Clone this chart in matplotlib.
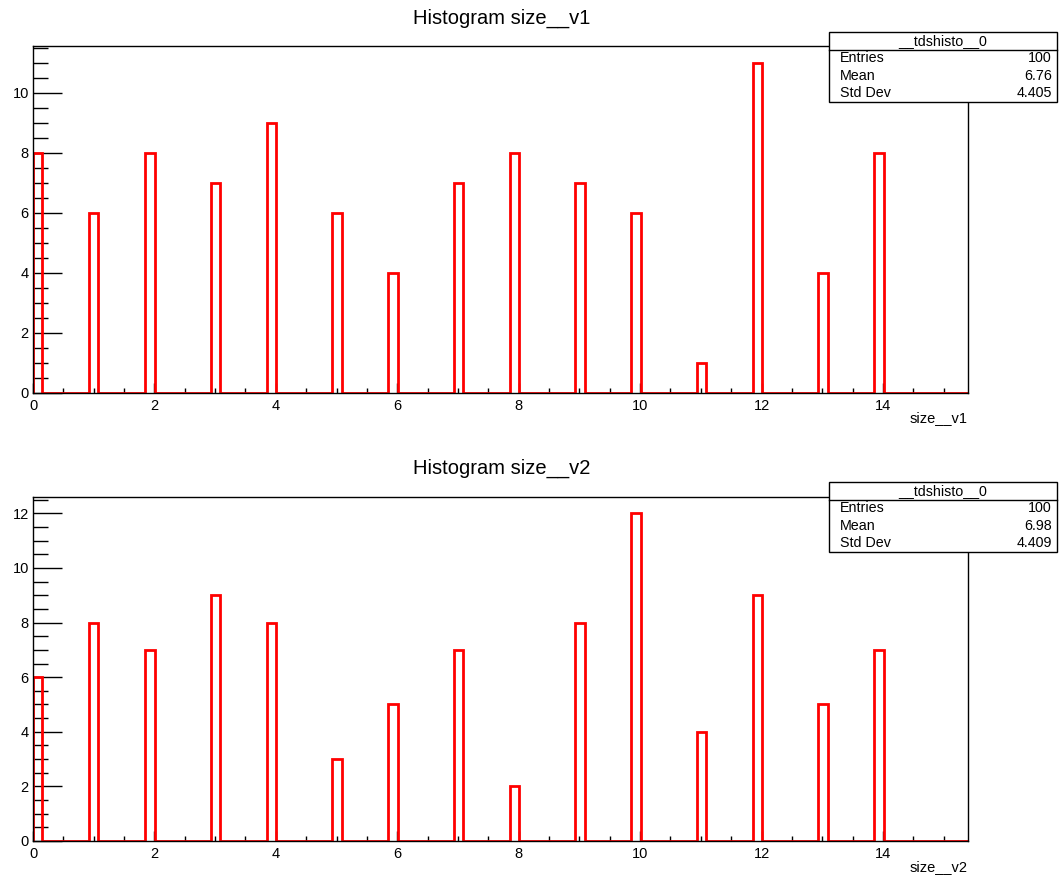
import numpy as np
import matplotlib
matplotlib.use("Agg")
import matplotlib.pyplot as plt
from matplotlib.ticker import MultipleLocator
from matplotlib.patches import Rectangle
from matplotlib.lines import Line2D

plt.rcParams['font.family'] = ['Liberation Sans', 'DejaVu Sans']

values = list(range(15))
counts_v1 = [8, 6, 8, 7, 9, 6, 4, 7, 8, 7, 6, 1, 11, 4, 8]
counts_v2 = [6, 8, 7, 9, 8, 3, 5, 7, 2, 8, 12, 4, 9, 5, 7]
names = ["size__v1", "size__v2"]
stats_title = "__tdshisto__0"
entries = [100, 100]
means = ["6.76", "6.98"]
stddevs = ["4.405", "4.409"]

xmin, xmax, nbins = 0.0, 15.4, 100

W, H = 1062, 876
fig = plt.figure(figsize=(W / 100, H / 100), dpi=100)

def fx(px):
    return px / W

def fy(py):
    return 1 - py / H

panels = [
    dict(top=46, bottom=393, counts=counts_v1, title_y=18, xlab_y=418, box_top=32),
    dict(top=497, bottom=841, counts=counts_v2, title_y=468, xlab_y=867, box_top=482),
]

for i, p in enumerate(panels):
    ax = fig.add_axes([fx(33), fy(p['bottom']), fx(968) - fx(33), fy(p['top']) - fy(p['bottom'])])
    bins = np.linspace(xmin, xmax, nbins + 1)
    ax.hist(values, bins=bins, weights=p['counts'], histtype='step', color='#ff0000', lw=2.0)
    ymax = max(p['counts']) * 1.05
    ax.set_xlim(xmin, xmax)
    ax.set_ylim(0, ymax)
    ax.xaxis.set_major_locator(MultipleLocator(2))
    ax.xaxis.set_minor_locator(MultipleLocator(0.5))
    ax.yaxis.set_major_locator(MultipleLocator(2))
    ax.yaxis.set_minor_locator(MultipleLocator(0.5))
    ax.tick_params(axis='x', which='major', direction='in', length=7.5, width=1, labelsize=10.5, pad=4)
    ax.tick_params(axis='x', which='minor', direction='in', length=3.8, width=1)
    ax.tick_params(axis='y', which='major', direction='in', length=21, width=1, labelsize=10.5, pad=3)
    ax.tick_params(axis='y', which='minor', direction='in', length=10.5, width=1)
    for s in ax.spines.values():
        s.set_linewidth(1)
        s.set_color('black')
    fig.text(fx(502), fy(p['title_y']), "Histogram " + names[i], ha='center', va='center', fontsize=14.5)
    fig.text(fx(968), fy(p['xlab_y']), names[i], ha='right', va='center', fontsize=10.5)

    # stats box
    bl, br = 829, 1057
    bt = p['box_top']
    rh = 17.5
    bb = bt + 4 * rh
    fig.patches.append(Rectangle((fx(bl), fy(bb)), fx(br) - fx(bl), fy(bt) - fy(bb),
                                 transform=fig.transFigure, facecolor='white', edgecolor='black', lw=1, zorder=5))
    fig.lines.append(Line2D([fx(bl), fx(br)], [fy(bt + rh), fy(bt + rh)], transform=fig.transFigure,
                            color='black', lw=1, zorder=6))
    fig.text(fx((bl + br) / 2), fy(bt + rh / 2), stats_title, ha='center', va='center', fontsize=10.3, zorder=7)
    rows = [("Entries", str(entries[i])), ("Mean", means[i]), ("Std Dev", stddevs[i])]
    for j, (k, v) in enumerate(rows):
        yy = fy(bt + rh * (j + 1.5))
        fig.text(fx(bl + 11), yy, k, ha='left', va='center', fontsize=10.3, zorder=7)
        fig.text(fx(br - 5), yy, v, ha='right', va='center', fontsize=10.3, zorder=7)

fig.savefig("out.png", dpi=100)
